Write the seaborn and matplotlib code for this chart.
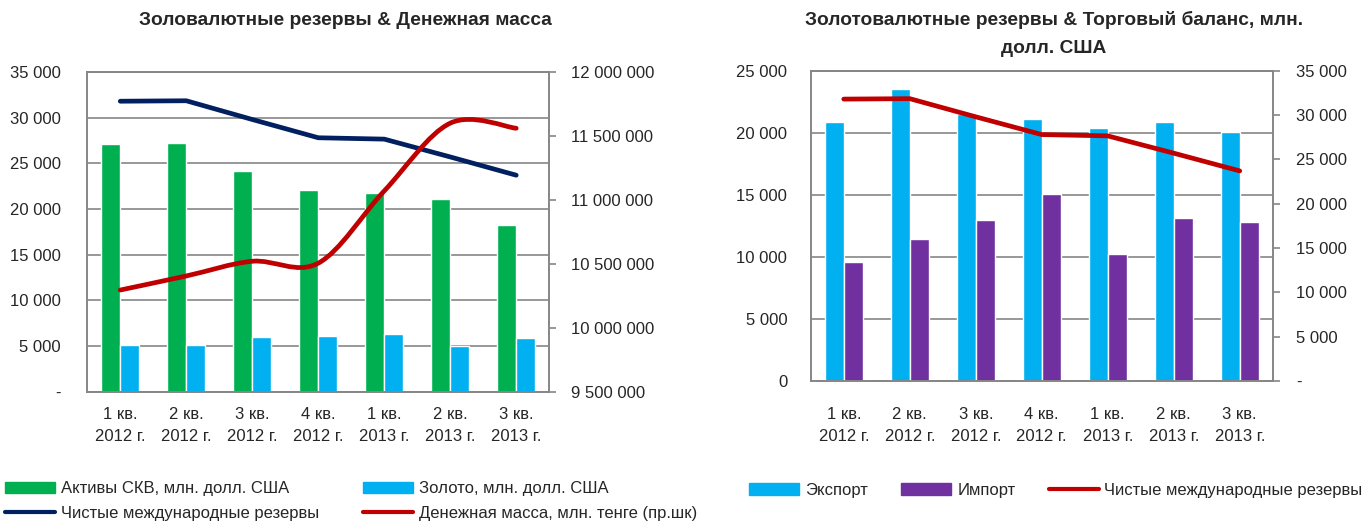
import numpy as np
import pandas as pd
import matplotlib.pyplot as plt
import seaborn as sns
from matplotlib.path import Path
from matplotlib.patches import PathPatch, Patch
from matplotlib.lines import Line2D
from matplotlib.ticker import FuncFormatter, MultipleLocator

# data
quarters = ['1 кв.\n2012 г.', '2 кв.\n2012 г.', '3 кв.\n2012 г.', '4 кв.\n2012 г.',
            '1 кв.\n2013 г.', '2 кв.\n2013 г.', '3 кв.\n2013 г.']
fx_assets = [27150, 27200, 24150, 22100, 21800, 21100, 18250]
gold = [5100, 5100, 5950, 6100, 6300, 5050, 5850]
net_reserves = [31800, 31850, 29800, 27800, 27650, 25700, 23700]
money_supply = [10295000, 10405000, 10520000, 10505000, 11070000, 11600000, 11560000]
exports = [20850, 23500, 21500, 21150, 20350, 20850, 20050]
imports = [9600, 11450, 13000, 15100, 10200, 13150, 12850]

GREEN = '#00B050'
CYAN = '#00B0F0'
PURPLE = '#7030A0'
NAVY = '#002060'
RED = '#C00000'
GRID = '#868686'

sns.set_style('white')
plt.rcParams['font.family'] = ['Liberation Sans', 'DejaVu Sans']
plt.rcParams['font.size'] = 12


def fmt_space(zero_label):
    def f(v, pos):
        if abs(v) < 1e-9:
            return zero_label
        return f'{v:,.0f}'.replace(',', ' ')
    return FuncFormatter(f)


def smooth_path(xs, ys):
    """Catmull-Rom style bezier path through the points (like Excel smoothed line)"""
    pts = np.column_stack([xs, ys]).astype(float)
    ext = np.vstack([pts[0], pts, pts[-1]])
    verts = [pts[0]]
    codes = [Path.MOVETO]
    for i in range(1, len(ext) - 2):
        p0, p1, p2, p3 = ext[i - 1], ext[i], ext[i + 1], ext[i + 2]
        verts += [p1 + (p2 - p0) / 6, p2 - (p3 - p1) / 6, p2]
        codes += [Path.CURVE4] * 3
    return Path(verts, codes)


def style_axes(ax, ax2):
    for a in (ax, ax2):
        for s in a.spines.values():
            s.set_color(GRID)
            s.set_linewidth(1.2)
    ax.set_axisbelow(True)
    ax.yaxis.grid(True, color=GRID, lw=1.2)
    ax.xaxis.grid(False)
    ax.set_xlabel('')
    ax.set_ylabel('')
    ax2.set_ylabel('')


x = np.arange(len(quarters))
fig = plt.figure(figsize=(13.7, 5.22), dpi=100)

# ---------- left chart ----------
ax = fig.add_axes([0.0637, 0.2496, 0.3372, 0.6125])
df_left = pd.DataFrame({
    'q': quarters * 2,
    'v': fx_assets + gold,
    's': ['Активы СКВ'] * 7 + ['Золото'] * 7,
})
sns.barplot(data=df_left, x='q', y='v', hue='s', palette=[GREEN, CYAN],
            width=0.58, saturation=1, legend=False, ax=ax)
ax.plot(x, net_reserves, color=NAVY, lw=3.4, solid_capstyle='round', zorder=4)
ax.set_xlim(-0.5, 6.5)
ax.set_ylim(0, 35000)
ax.yaxis.set_major_locator(MultipleLocator(5000))
ax.yaxis.set_major_formatter(fmt_space('-'))
ax.set_xticks(x)
ax.set_xticklabels(quarters, linespacing=1.55)
ax.tick_params(axis='x', length=0, pad=11)
ax.tick_params(axis='y', length=0, pad=19)

ax2 = ax.twinx()
ax2.add_patch(PathPatch(smooth_path(x, money_supply), facecolor='none',
                        edgecolor=RED, lw=3.4, capstyle='round', zorder=5))
ax2.set_ylim(9500000, 12000000)
ax2.yaxis.set_major_locator(MultipleLocator(500000))
ax2.yaxis.set_major_formatter(fmt_space('-'))
ax2.tick_params(axis='y', length=5, width=1.2, color=GRID, pad=11)
style_axes(ax, ax2)

fig.text(345 / 1370, 0.96, 'Золовалютные резервы & Денежная масса',
         ha='center', va='center', fontsize=13.8, fontweight='bold')

left_handles = [Patch(color=GREEN), Line2D([], [], color=NAVY, lw=3),
                Patch(color=CYAN), Line2D([], [], color=RED, lw=3)]
left_labels = ['Активы СКВ, млн. долл. США', 'Чистые международные резервы',
               'Золото, млн. долл. США', 'Денежная масса, млн. тенге (пр.шк)']
fig.legend(left_handles, left_labels, ncol=2, loc='upper left',
           bbox_to_anchor=(0.004, 0.078), frameon=False,
           handlelength=3.0, handletextpad=0.35, columnspacing=2.6,
           labelspacing=0.6, borderpad=0, borderaxespad=0)

# ---------- right chart ----------
ax3 = fig.add_axes([0.5918, 0.2701, 0.3372, 0.5944])
df_right = pd.DataFrame({
    'q': quarters * 2,
    'v': exports + imports,
    's': ['Экспорт'] * 7 + ['Импорт'] * 7,
})
sns.barplot(data=df_right, x='q', y='v', hue='s', palette=[CYAN, PURPLE],
            width=0.58, saturation=1, legend=False, ax=ax3)
ax3.set_xlim(-0.5, 6.5)
ax3.set_ylim(0, 25000)
ax3.yaxis.set_major_locator(MultipleLocator(5000))
ax3.yaxis.set_major_formatter(fmt_space('0'))
ax3.set_xticks(x)
ax3.set_xticklabels(quarters, linespacing=1.55)
ax3.tick_params(axis='x', length=0, pad=19)
ax3.tick_params(axis='y', length=0, pad=17)

ax4 = ax3.twinx()
ax4.plot(x, net_reserves, color=RED, lw=3.4, solid_capstyle='round', zorder=5)
ax4.set_ylim(0, 35000)
ax4.yaxis.set_major_locator(MultipleLocator(5000))
ax4.yaxis.set_major_formatter(fmt_space('-'))
ax4.tick_params(axis='y', length=5, width=1.2, color=GRID, pad=12)
style_axes(ax3, ax4)

fig.text(1054 / 1370, 1 - 34 / 522,
         'Золотовалютные резервы & Торговый баланс, млн.\nдолл. США',
         ha='center', va='center', fontsize=13.8, fontweight='bold',
         linespacing=1.85)

right_handles = [Patch(color=CYAN), Patch(color=PURPLE),
                 Line2D([], [], color=RED, lw=3)]
right_labels = ['Экспорт', 'Импорт', 'Чистые международные резервы']
fig.legend(right_handles, right_labels, ncol=3, loc='center left',
           bbox_to_anchor=(0.547, 0.061), frameon=False,
           handlelength=3.0, handletextpad=0.35, columnspacing=2.0,
           borderpad=0, borderaxespad=0)

fig.savefig('out.png', dpi=100)
